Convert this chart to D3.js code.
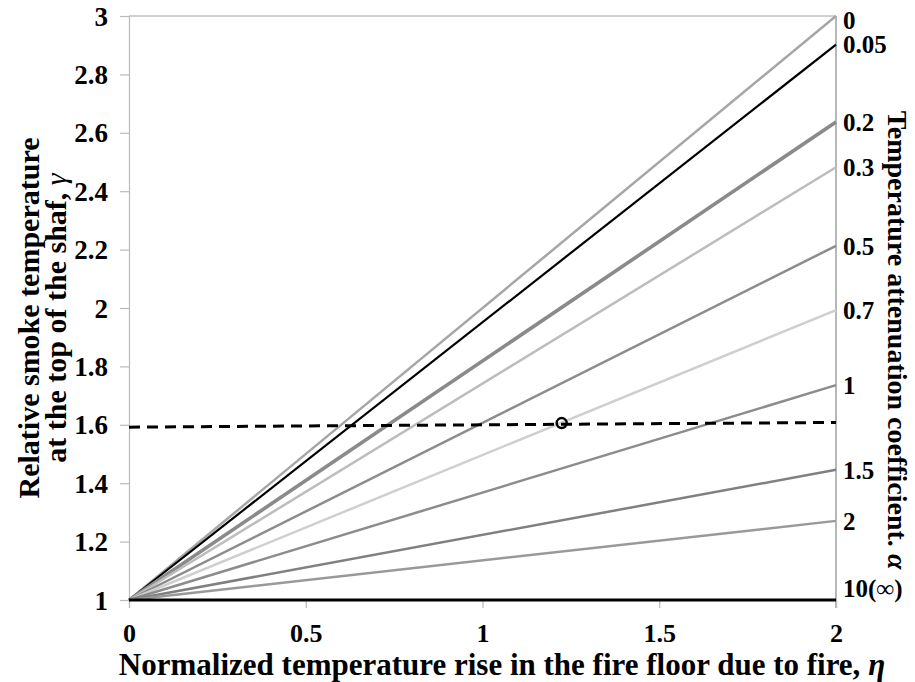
<!DOCTYPE html>
<html>
<head>
<meta charset="utf-8">
<script src="https://cdn.jsdelivr.net/npm/d3@7"></script>
<style>
  html, body { margin: 0; padding: 0; background: #fff; }
  svg { display: block; }
  text { font-family: "Liberation Serif", "Times New Roman", serif; font-weight: bold; fill: #000; }
</style>
</head>
<body>
<svg id="chart" width="915" height="682"></svg>
<script>
// Attenuation coefficients and the relative smoke temperature each line reaches at eta = 2
const alphaLabels = ["0", "0.05", "0.2", "0.3", "0.5", "0.7", "1", "1.5", "2", "10(\u221e)"];
const gammaAtStart = [1, 1, 1, 1, 1, 1, 1, 1, 1, 1];
const gammaAtEnd = [3.0, 2.902, 2.637, 2.482, 2.213, 1.993, 1.736, 1.446, 1.271, 1.0];
const etaStart = 0;
const etaEnd = 2;

// Design point reading and the horizontal reference line through it
const refLineEta = [0, 2];
const refLineGamma = [1.592, 1.608];
const markerEta = 1.224;
const markerGamma = 1.606;

// Axis ticks
const xTicks = [0, 0.5, 1, 1.5, 2];
const yTicks = [1, 1.2, 1.4, 1.6, 1.8, 2, 2.2, 2.4, 2.6, 2.8, 3];

// Line styles per alpha
const lineColors = ["#a6a6a6", "#000000", "#8a8a8a", "#bdbdbd", "#8c8c8c", "#cfcfcf", "#8c8c8c", "#808080", "#999999", "#000000"];
const lineWidths = [2.5, 2.2, 3.6, 2.5, 2.5, 2.5, 2.5, 2.5, 2.5, 3];

const svg = d3.select("#chart");
const margin = { left: 129, right: 79, top: 16, bottom: 82 };
const W = 915, H = 682;
const x = d3.scaleLinear().domain([0, 2]).range([margin.left, W - margin.right]);
const y = d3.scaleLinear().domain([1, 3]).range([H - margin.bottom, margin.top]);

// Plot frame: top and right edges
svg.append("line")
  .attr("x1", x(0)).attr("x2", x(2)).attr("y1", y(3)).attr("y2", y(3))
  .attr("stroke", "#a0a0a0").attr("stroke-width", 1);
svg.append("line")
  .attr("x1", x(2)).attr("x2", x(2)).attr("y1", y(3)).attr("y2", y(1) + 8)
  .attr("stroke", "#888").attr("stroke-width", 1.2);

// Left axis
const yAxis = svg.append("g")
  .attr("transform", `translate(${x(0)},0)`)
  .call(d3.axisLeft(y).tickValues(yTicks).tickSize(9).tickPadding(12)
    .tickFormat(d => d3.format("")(+d.toFixed(1))));
yAxis.select(".domain").attr("stroke", "#bbb").attr("stroke-width", 1.2);
yAxis.selectAll(".tick line").attr("stroke", "#bbb").attr("stroke-width", 1.2);
yAxis.selectAll(".tick text")
  .style("font-size", "27px").attr("dy", "0.34em");

// Bottom axis
const xAxis = svg.append("g")
  .attr("transform", `translate(0,${y(1)})`)
  .call(d3.axisBottom(x).tickValues(xTicks).tickSize(8).tickPadding(16)
    .tickFormat(d => d3.format("")(d)));
xAxis.select(".domain").attr("stroke", "#bbb").attr("stroke-width", 1.2);
xAxis.selectAll(".tick line").attr("stroke", "#bbb").attr("stroke-width", 1.2);
xAxis.selectAll(".tick text").style("font-size", "26px");

// Alpha lines
const lines = alphaLabels.map((a, i) => ({
  label: a,
  pts: [[etaStart, gammaAtStart[i]], [etaEnd, gammaAtEnd[i]]],
  color: lineColors[i],
  width: lineWidths[i]
}));
const lineGen = d3.line().x(d => x(d[0])).y(d => y(d[1]));
svg.append("g").selectAll("path")
  .data(lines)
  .join("path")
  .attr("d", d => lineGen(d.pts))
  .attr("fill", "none")
  .attr("stroke", d => d.color)
  .attr("stroke-width", d => d.width);

// Alpha labels at the right ends of the lines
svg.append("g").selectAll("text")
  .data(lines)
  .join("text")
  .attr("x", x(2) + 7)
  .attr("y", d => Math.max(y(3) + 4, Math.min(y(d.pts[1][1]), y(1) - 12)))
  .attr("dy", "0.35em")
  .style("font-size", "25px")
  .text(d => d.label);

// Dashed reference line and the design point
svg.append("path")
  .attr("d", lineGen(refLineEta.map((e, i) => [e, refLineGamma[i]])))
  .attr("fill", "none")
  .attr("stroke", "#000")
  .attr("stroke-width", 3)
  .attr("stroke-dasharray", "11,7");
svg.append("circle")
  .attr("cx", x(markerEta)).attr("cy", y(markerGamma)).attr("r", 5)
  .attr("fill", "none").attr("stroke", "#000").attr("stroke-width", 2.5);

// Axis titles
svg.append("text")
  .attr("x", 502).attr("y", 675)
  .attr("text-anchor", "middle")
  .style("font-size", "31px")
  .html("Normalized temperature rise in the fire floor due to fire, <tspan font-style='italic'>\u03b7</tspan>");

const yTitle = svg.append("text")
  .attr("transform", "translate(0,318) rotate(-90)")
  .attr("text-anchor", "middle")
  .style("font-size", "30px");
yTitle.append("tspan").attr("x", 0).attr("y", 39).text("Relative smoke temperature");
yTitle.append("tspan").attr("x", 0).attr("y", 66).html("at the  top of the shaf, <tspan font-style='italic' font-weight='normal'>\u03b3</tspan>");

svg.append("text")
  .attr("transform", "translate(888,340) rotate(90)")
  .attr("text-anchor", "middle")
  .style("font-size", "28px")
  .html("Temperature attenuation coefficient. <tspan font-style='italic'>\u03b1</tspan>");
</script>
</body>
</html>
